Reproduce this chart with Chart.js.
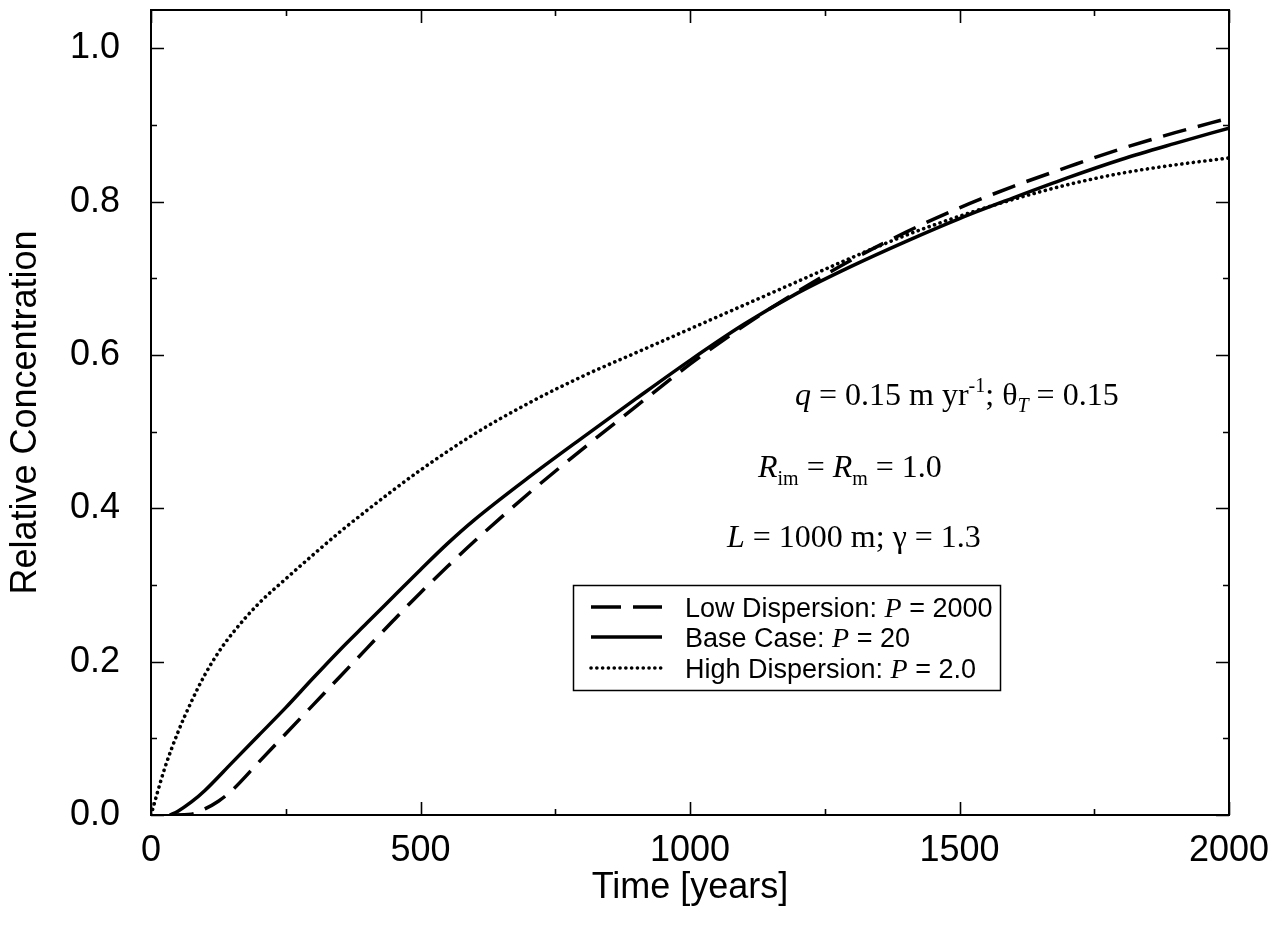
<!DOCTYPE html>
<html>
<head>
<meta charset="utf-8">
<script src="https://cdn.jsdelivr.net/npm/chart.js@4.4.1/dist/chart.umd.min.js"></script>
<style>
  html, body { margin: 0; padding: 0; background: #fff; }
  #wrap { width: 1278px; height: 930px; }
</style>
</head>
<body>
<div id="wrap"><canvas id="c" width="1278" height="930"></canvas></div>
<script>
// ---- Data ----
const highTime = [0,25,50,75,100,125,150,200,250,300,350,400,450,500,600,700,800,900,1000,1100,1200,1300,1400,1500,1600,1700,1800,1900,2000];
const highConc = [0,0.06,0.108,0.148,0.183,0.212,0.236,0.276,0.308,0.339,0.369,0.397,0.424,0.45,0.497,0.537,0.572,0.603,0.634,0.665,0.696,0.727,0.756,0.781,0.803,0.822,0.837,0.848,0.857];

const baseTime = [35,50,75,100,150,200,250,300,350,400,450,500,550,600,700,800,900,1000,1100,1200,1300,1400,1500,1600,1700,1800,1900,2000];
const baseConc = [0,0.005,0.017,0.032,0.068,0.104,0.14,0.178,0.215,0.25,0.285,0.32,0.354,0.385,0.44,0.492,0.543,0.593,0.64,0.681,0.716,0.748,0.778,0.805,0.831,0.855,0.876,0.896];

const lowTime = [35,75,100,125,150,200,250,300,350,400,450,500,550,600,700,800,900,1000,1100,1200,1300,1400,1500,1600,1700,1800,1900,2000];
const lowConc = [0,0.001,0.008,0.018,0.032,0.069,0.106,0.143,0.18,0.217,0.254,0.29,0.324,0.357,0.419,0.477,0.533,0.588,0.638,0.683,0.724,0.76,0.792,0.82,0.845,0.869,0.89,0.909];

const seriesNames = ["Low Dispersion: ", "Base Case: ", "High Dispersion: "];
const seriesP = ["2000", "20", "2.0"];

const xTickValues = [0, 500, 1000, 1500, 2000];
const xMinorStep = 250;
const yTickValues = [0, 0.2, 0.4, 0.6, 0.8, 1.0];
const yMinorStep = 0.1;

const xTitle = "Time [years]";
const yTitle = "Relative Concentration";

// ---- helpers ----
const SANS = '"Liberation Sans", Arial, Helvetica, sans-serif';
const SERIF = '"Liberation Serif", "Times New Roman", Times, serif';
function pts(xs, ys) { return xs.map((x, i) => ({ x: x, y: ys[i] })); }

const datasets = [
  { label: seriesNames[0] + "P = " + seriesP[0], data: pts(lowTime, lowConc),
    borderColor: '#000', borderWidth: 3.5, borderDash: [24, 12], borderCapStyle: 'butt',
    pointRadius: 0, fill: false, cubicInterpolationMode: 'monotone' },
  { label: seriesNames[1] + "P = " + seriesP[1], data: pts(baseTime, baseConc),
    borderColor: '#000', borderWidth: 3.5, pointRadius: 0, fill: false, cubicInterpolationMode: 'monotone' },
  { label: seriesNames[2] + "P = " + seriesP[2], data: pts(highTime, highConc),
    borderColor: '#000', borderWidth: 3.6, borderDash: [0.1, 5.7], borderCapStyle: 'round',
    pointRadius: 0, fill: false, cubicInterpolationMode: 'monotone' }
];

function drawSegments(ctx, x, y, segs) {
  ctx.textBaseline = 'alphabetic';
  ctx.textAlign = 'left';
  let cx = x;
  for (const s of segs) {
    ctx.font = s.font;
    ctx.fillText(s.t, cx, y + (s.dy || 0));
    cx += ctx.measureText(s.t).width;
  }
}

const framePlugin = {
  id: 'frameTicks',
  afterDatasetsDraw(chart) {
    const { ctx, chartArea: a, scales: { x, y } } = chart;
    ctx.save();
    ctx.strokeStyle = '#000';
    ctx.lineWidth = 1.6;
    ctx.beginPath();
    for (let v = x.min; v <= x.max + 1e-9; v += xMinorStep) {
      const px = Math.round(x.getPixelForValue(v)) + 0.5;
      const len = xTickValues.includes(v) ? 13 : 6;
      ctx.moveTo(px, a.bottom); ctx.lineTo(px, a.bottom - len);
      ctx.moveTo(px, a.top); ctx.lineTo(px, a.top + len);
    }
    for (let i = 0; i * yMinorStep <= 1.0 + 1e-9; i++) {
      const v = i * yMinorStep;
      const py = Math.round(y.getPixelForValue(v)) + 0.5;
      const len = (i % 2 === 0) ? 13 : 6;
      ctx.moveTo(a.left, py); ctx.lineTo(a.left + len, py);
      ctx.moveTo(a.right, py); ctx.lineTo(a.right - len, py);
    }
    ctx.stroke();
    ctx.lineWidth = 2;
    ctx.strokeRect(a.left, a.top, a.right - a.left, a.bottom - a.top);

    // annotation text
    ctx.fillStyle = '#000';
    const f = '32px ' + SERIF, fi = 'italic 32px ' + SERIF, fs = '20px ' + SERIF, fsi = 'italic 20px ' + SERIF;
    drawSegments(ctx, 795, 405, [
      { t: 'q', font: fi }, { t: ' = 0.15 m yr', font: f }, { t: '-1', font: fs, dy: -13 },
      { t: '; θ', font: f }, { t: 'T', font: fsi, dy: 7 }, { t: ' = 0.15', font: f }
    ]);
    drawSegments(ctx, 758, 477, [
      { t: 'R', font: fi }, { t: 'im', font: fs, dy: 8 }, { t: ' = ', font: f },
      { t: 'R', font: fi }, { t: 'm', font: fs, dy: 8 }, { t: ' = 1.0', font: f }
    ]);
    drawSegments(ctx, 727, 547, [
      { t: 'L', font: fi }, { t: ' = 1000 m; γ = 1.3', font: f }
    ]);

    // legend
    const lx0 = 573, ly0 = 585, lx1 = 1000, ly1 = 690;
    ctx.fillStyle = '#fff';
    ctx.fillRect(lx0, ly0, lx1 - lx0, ly1 - ly0);
    ctx.lineWidth = 1.5;
    ctx.strokeStyle = '#000';
    ctx.strokeRect(lx0 + 0.5, ly0 + 0.5, lx1 - lx0, ly1 - ly0);
    const rows = [607, 637, 668];
    const legendDash = [[30, 12], [], [0.1, 5.7]];
    chart.data.datasets.forEach((ds, i) => {
      const ry = rows[i];
      ctx.save();
      ctx.strokeStyle = ds.borderColor;
      ctx.lineWidth = ds.borderWidth;
      ctx.lineCap = ds.borderCapStyle || 'butt';
      ctx.setLineDash(legendDash[i]);
      ctx.beginPath(); ctx.moveTo(591, ry); ctx.lineTo(662, ry); ctx.stroke();
      ctx.restore();
      ctx.fillStyle = '#000';
      drawSegments(ctx, 685, ry + 10, [
        { t: seriesNames[i], font: '27px ' + SANS },
        { t: 'P', font: 'italic 28px ' + SERIF },
        { t: ' = ' + seriesP[i], font: '27px ' + SANS }
      ]);
    });
    ctx.restore();
  }
};

function zeroPad(s) { s.paddingTop = 0; s.paddingBottom = 0; s.paddingLeft = 0; s.paddingRight = 0; }

new Chart(document.getElementById('c'), {
  type: 'line',
  data: { datasets: datasets },
  plugins: [framePlugin],
  options: {
    responsive: false,
    devicePixelRatio: 1,
    animation: false,
    layout: { padding: { top: 10, right: 49, left: 0, bottom: 0 } },
    plugins: { legend: { display: false }, tooltip: { enabled: false } },
    elements: { line: { tension: 0 } },
    scales: {
      x: {
        type: 'linear', min: 0, max: 2000,
        afterBuildTicks: (s) => { s.ticks = xTickValues.map(v => ({ value: v })); },
        afterFit: (s) => { s.height = 115; zeroPad(s); },
        ticks: { color: '#000', font: { family: SANS, size: 36 }, padding: 14, maxRotation: 0,
                 callback: (v) => String(v) },
        grid: { display: false, drawTicks: false },
        border: { display: false },
        title: { display: true, text: xTitle, color: '#000', font: { family: SANS, size: 36 },
                 padding: { top: 0, bottom: 20 } }
      },
      y: {
        type: 'linear', min: 0, max: 1.05,
        afterBuildTicks: (s) => { s.ticks = yTickValues.map(v => ({ value: v })); },
        afterFit: (s) => { s.width = 151; zeroPad(s); },
        ticks: { color: '#000', font: { family: SANS, size: 36 }, padding: 31,
                 callback: (v) => Number(v).toFixed(1) },
        grid: { display: false, drawTicks: false },
        border: { display: false },
        title: { display: true, text: yTitle, color: '#000', font: { family: SANS, size: 36 },
                 padding: { top: 4, bottom: 4 } }
      }
    }
  }
});
</script>
</body>
</html>
